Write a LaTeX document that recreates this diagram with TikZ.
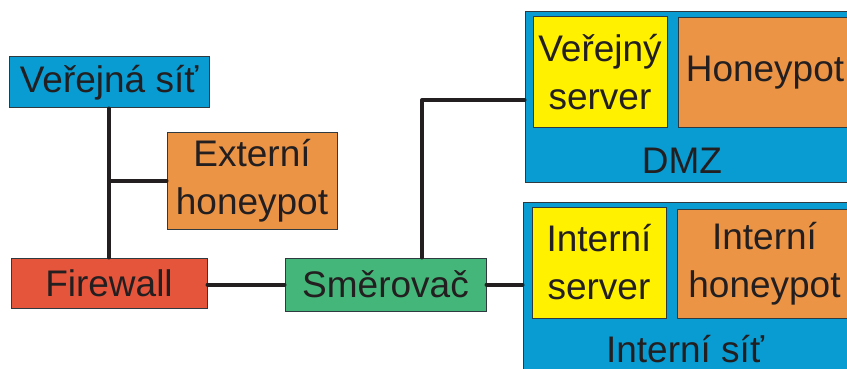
\documentclass[tikz,border=0pt]{standalone}
\usepackage{fontspec}
\setmainfont{Liberation Sans}
\definecolor{cblue}{HTML}{089CD3}
\definecolor{corange}{HTML}{EC9446}
\definecolor{cred}{HTML}{E5553C}
\definecolor{cgreen}{HTML}{44B679}
\definecolor{cyellow}{HTML}{FFF100}
\definecolor{boxline}{HTML}{2F3A40}
\definecolor{txt}{HTML}{231F20}
\definecolor{linec}{HTML}{231F20}
\begin{document}
\begin{tikzpicture}[x=1pt,y=-1pt,
  box/.style={draw=boxline, line width=1pt, text=txt, inner sep=0pt, align=center,
    font=\fontsize{37}{48}\selectfont},
  lbl/.style={text=txt, inner sep=0pt, anchor=base, font=\fontsize{37}{48}\selectfont},
  link/.style={line width=4pt, draw=linec, line cap=round, line join=round}]
\useasboundingbox (0,0) rectangle (847,369);
\clip (0,0) rectangle (847,369);
% nodes
\node[box, fill=cblue, minimum width=200pt, minimum height=51pt] (vs) at (109,82.5) {Veřejná síť};
\node[box, fill=corange, minimum width=170pt, minimum height=97pt] (ext) at (252,180.5) {Externí\\honeypot};
\node[box, fill=cred, minimum width=196pt, minimum height=50pt] (fw) at (109,283) {Firewall};
\node[box, fill=cgreen, minimum width=201pt, minimum height=53pt] (sm) at (385.5,284.5) {Směrovač};
\node[box, fill=cblue, minimum width=337pt, minimum height=170pt] (dmz) at (693.5,97) {};
\node[box, fill=cyellow, minimum width=134pt, minimum height=111pt] (vsrv) at (600,72.5) {Veřejný\\server};
\node[box, fill=corange, minimum width=174pt, minimum height=110pt] (hp) at (765,73) {Honeypot};
\node[lbl] (dmzlabel) at (682,173) {DMZ};
\node[box, fill=cblue, minimum width=339pt, minimum height=183pt] (is) at (692.5,293.5) {};
\node[box, fill=cyellow, minimum width=134pt, minimum height=111pt] (isrv) at (599,262.5) {Interní\\server};
\node[box, fill=corange, minimum width=175pt, minimum height=109pt] (ihp) at (764.5,263.5) {Interní\\honeypot};
\node[lbl] (islabel) at (685,362) {Interní síť};
% connectors
\coordinate (turn) at (422,100);
\begin{scope}[on background layer/.try]
\end{scope}
\draw[link] (vs.south) -- (fw.north);
\draw[link] (ext.west) -- (ext.west -| vs.south);
\draw[link] (sm.west -| fw.east) -- (sm.west);
\draw[link] (sm.east) -- (sm.east -| is.west);
\draw[link] (sm.north -| turn) -- (turn) -- (turn -| dmz.west);
\end{tikzpicture}
\end{document}
